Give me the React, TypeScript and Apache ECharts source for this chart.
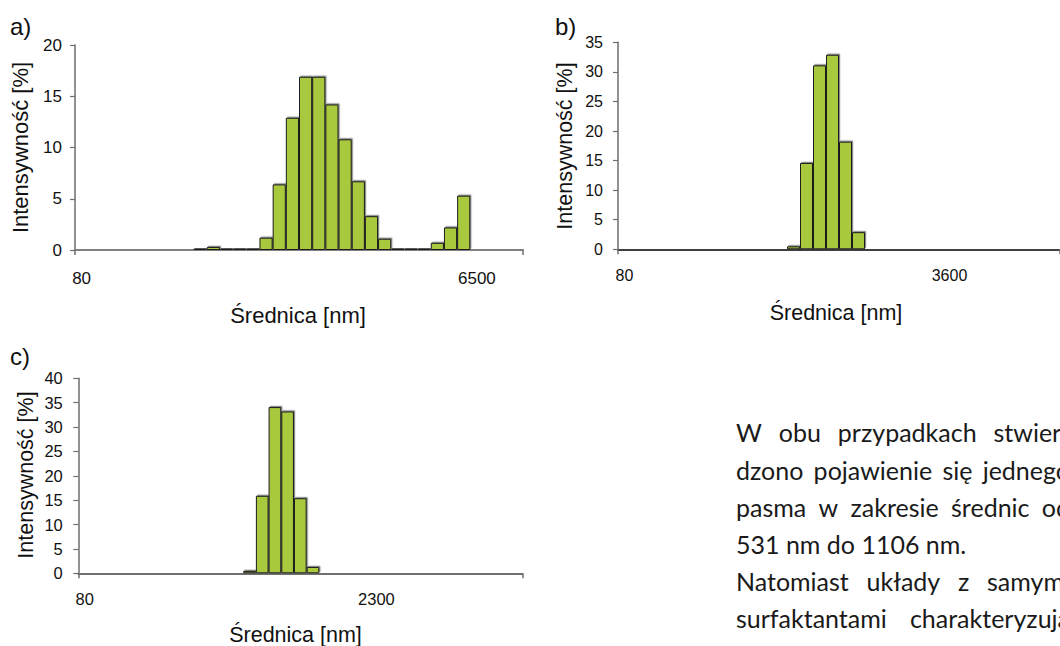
import React, { useEffect, useRef } from 'react';
import * as echarts from 'echarts';

// ---------- data ----------
// Panel a: histogram bins (log-spaced diameter classes), 34 classes
const binCountA = 34;
const firstBinA = 9;
const valuesA = [0.15, 0.3, 0.15, 0.15, 0.15, 1.2, 6.4, 12.9, 16.9, 16.9, 14.2, 10.8, 6.7, 3.3, 1.1, 0.15, 0.15, 0.15, 0.7, 2.2, 5.3];
const tickLabelsA: [number, string][] = [[0, '80'], [30, '6500']];

// Panel b
const binCountB = 34;
const firstBinB = 13;
const valuesB = [0.5, 14.6, 31.1, 32.9, 18.2, 2.9];
const tickLabelsB: [number, string][] = [[0, '80'], [25, '3600']];

// Panel c
const binCountC = 35;
const firstBinC = 13;
const valuesC = [0.5, 15.9, 34.1, 33.2, 15.4, 1.3];
const tickLabelsC: [number, string][] = [[0, '80'], [23, '2300']];

const yMaxA = 20;
const yMaxB = 35;
const yMaxC = 40;

const panelLetters = ['a)', 'b)', 'c)'];
const xTitle = 'Średnica [nm]';
const yTitle = 'Intensywność [%]';

// body text (justified paragraph, clipped by the page edge)
const bodyLines: string[] = [
  'W obu przypadkach stwier-',
  'dzono pojawienie się jednego',
  'pasma w zakresie średnic od',
  '531 nm do 1106 nm.',
  'Natomiast układy z samymi',
  'surfaktantami charakteryzują',
];
const bodyJustified = [true, true, true, false, true, true];

// ---------- helpers ----------
const FONT = '"Liberation Sans", Arial, sans-serif';
const BODY_FONT_NAME = 'Lato';
const BODY_SIZE = 25;

function categories(n: number, labels: [number, string][]) {
  const out: string[] = [];
  for (let i = 0; i < n; i++) {
    const f = labels.find((l) => l[0] === i);
    out.push(f ? f[1] : '');
  }
  return out;
}
function series(n: number, first: number, vals: number[]) {
  const out: (number | null)[] = [];
  for (let i = 0; i < n; i++) {
    const k = i - first;
    out.push(k >= 0 && k < vals.length ? vals[k] : null);
  }
  return out;
}

export default function App() {
  const ref = useRef<HTMLDivElement>(null);
  useEffect(() => {
    if (!ref.current) return;
    const chart = echarts.init(ref.current, null, { renderer: 'svg' });

    const mkX = (gi: number, data: string[], lineColor: string, lineWidth: number, margin: number, fs: number) => ({
      type: 'category',
      gridIndex: gi,
      data,
      boundaryGap: true,
      axisLine: { show: true, onZero: false, lineStyle: { color: lineColor, width: lineWidth } },
      axisTick: { show: true, interval: (i: number) => i === 0, length: 5, lineStyle: { color: '#6e6e6e', width: 1.5 } },
      axisLabel: { show: true, interval: 0, margin, fontSize: fs, color: '#111', fontFamily: FONT },
      splitLine: { show: false },
    });
    const mkY = (gi: number, max: number, margin: number, fs: number) => ({
      type: 'value',
      gridIndex: gi,
      min: 0,
      max,
      interval: 5,
      axisLine: { show: true, lineStyle: { color: '#6e6e6e', width: 1.5 } },
      axisTick: { show: true, length: 5, lineStyle: { color: '#6e6e6e', width: 1.2 } },
      axisLabel: { margin, fontSize: fs, color: '#111', fontFamily: FONT },
      splitLine: { show: false },
    });
    const barStyle = {
      color: '#a8c83c',
      borderColor: '#1c1c1c',
      borderWidth: 1,
      shadowColor: 'rgba(0,0,0,0.45)',
      shadowOffsetX: 1.2,
      shadowOffsetY: -1.2,
      shadowBlur: 0.5,
    };
    const mkBar = (i: number, data: (number | null)[]) => ({
      type: 'bar',
      xAxisIndex: i,
      yAxisIndex: i,
      data,
      barCategoryGap: '0%',
      barGap: '0%',
      itemStyle: barStyle,
      z: 1,
    });

    const txt = (text: string, x: number, y: number, fs: number, opts: any = {}) => ({
      type: 'text',
      x,
      y,
      rotation: opts.rotation || 0,
      silent: true,
      style: {
        text,
        fontSize: fs,
        fontFamily: opts.font || FONT,
        fill: opts.fill || '#111',
        align: opts.align || 'center',
        verticalAlign: 'middle',
      },
    });

    const graphics: any[] = [
      txt(panelLetters[0], 10, 26, 24, { align: 'left' }),
      txt(panelLetters[1], 555, 26, 24, { align: 'left' }),
      txt(panelLetters[2], 10, 356, 24, { align: 'left' }),
      txt(yTitle, 20, 147.5, 22, { rotation: Math.PI / 2 }),
      txt(yTitle, 565, 146, 21.5, { rotation: Math.PI / 2 }),
      txt(yTitle, 25.5, 475, 21.5, { rotation: Math.PI / 2 }),
      txt(xTitle, 298, 315, 22),
      txt(xTitle, 836, 313, 21.5),
      txt(xTitle, 295.5, 635, 21.5),
    ];

    // justified paragraph layout
    const canvas = document.createElement('canvas');
    const ctx = canvas.getContext('2d')!;
    ctx.font = `${BODY_SIZE}px ${BODY_FONT_NAME}`;
    const colLeft = 736;
    const colRight = 1070;
    const baseline0 = 442;
    const lineStep = 37.2;
    const spaceW = ctx.measureText(' ').width;
    bodyLines.forEach((line, li) => {
      const words = line.split(' ');
      const widths = words.map((w) => ctx.measureText(w).width);
      const total = widths.reduce((a, b) => a + b, 0);
      let gap = spaceW;
      if (bodyJustified[li] && words.length > 1) {
        gap = Math.max(spaceW * 0.8, (colRight - colLeft - total) / (words.length - 1));
      }
      let x = colLeft;
      const y = baseline0 + li * lineStep - 9.7;
      words.forEach((w, wi) => {
        graphics.push(txt(w, x, y, BODY_SIZE, { align: 'left', font: BODY_FONT_NAME, fill: '#1a1a1a' }));
        x += widths[wi] + gap;
      });
    });

    chart.setOption({
      animation: false,
      backgroundColor: '#ffffff',
      grid: [
        { left: 75, top: 45, width: 448, height: 205 },
        { left: 618, top: 42.3, width: 448, height: 207 },
        { left: 78.3, top: 378.3, width: 444, height: 195 },
      ],
      xAxis: [
        mkX(0, categories(binCountA, tickLabelsA), '#808080', 2, 19.5, 17),
        mkX(1, categories(binCountB, tickLabelsB), '#000000', 1.5, 18.5, 16),
        mkX(2, categories(binCountC, tickLabelsC), '#707070', 2, 17, 16.5),
      ],
      yAxis: [mkY(0, yMaxA, 13, 17), mkY(1, yMaxB, 15, 16), mkY(2, yMaxC, 15.5, 16.5)],
      series: [
        mkBar(0, series(binCountA, firstBinA, valuesA)),
        mkBar(1, series(binCountB, firstBinB, valuesB)),
        mkBar(2, series(binCountC, firstBinC, valuesC)),
      ],
      graphic: graphics,
    });
    return () => chart.dispose();
  }, []);
  return (
    <div
      ref={ref}
      style={{ position: 'fixed', left: 0, top: 0, width: 1060, height: 646, background: '#fff' }}
    />
  );
}
